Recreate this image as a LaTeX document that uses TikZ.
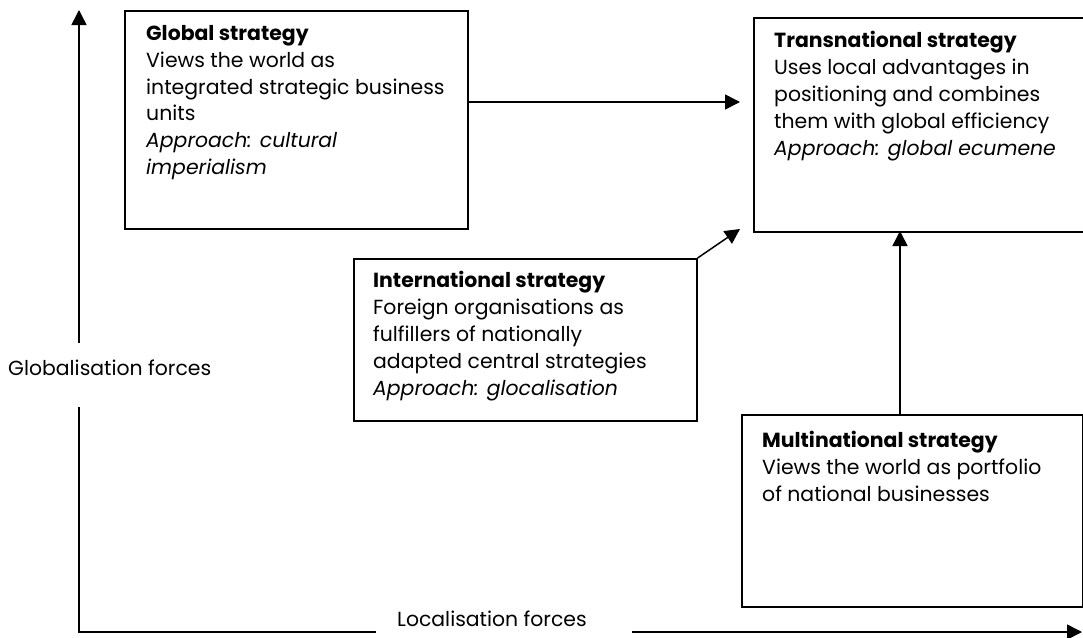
\documentclass[tikz,border=0pt]{standalone}
\usepackage{fontspec}
\setmainfont{Poppins}
\usetikzlibrary{arrows.meta}
\begin{document}
\begin{tikzpicture}[x=1pt,y=-1pt,
  box/.style={draw,line width=1.6pt,rectangle,inner sep=0pt,anchor=north west},
  txt/.style={anchor=north west,inner sep=0pt,align=left,font=\fontsize{20.4}{26.9}\selectfont},
  conn/.style={line width=1.5pt,-{Triangle[length=15pt,width=15pt]}},
  axis/.style={line width=1.5pt},
  lbl/.style={inner sep=0pt,font=\fontsize{20.4}{24}\selectfont}]
\useasboundingbox (0,0) rectangle (1083,637);
\begin{scope}
\clip (0,0) rectangle (1083,637);
% strategy boxes
\node[box,minimum width=343pt,minimum height=218pt] (glob) at (124,10) {};
\node[box,minimum width=340pt,minimum height=214pt] (trans) at (753,17) {};
\node[box,minimum width=343pt,minimum height=162pt] (intl) at (353,258) {};
\node[box,minimum width=341pt,minimum height=192pt] (multi) at (741,414) {};
\end{scope}
% box texts
\node[txt] (globtxt) at (146,25) {\textbf{Global strategy}\\Views the world as\\integrated strategic business\\units\\\textit{Approach: cultural}\\\textit{imperialism}};
\node[txt] (transtxt) at (774,31) {\textbf{Transnational strategy}\\Uses local advantages in\\positioning and combines\\them with global efficiency\\\textit{Approach: global ecumene}};
\node[txt] (intltxt) at (373,271) {\textbf{International strategy}\\Foreign organisations as\\fulfillers of nationally\\adapted central strategies\\\textit{Approach: glocalisation}};
\node[txt] (multitxt) at (762,431) {\textbf{Multinational strategy}\\Views the world as portfolio\\of national businesses};
% connector end points
\coordinate (gt1) at (467,102);
\coordinate (gt2) at (740,102);
\coordinate (it2) at (740,229);
\coordinate (mt1) at (900,414);
\coordinate (mt2) at (900,231);
\draw[conn] (gt1) -- (gt2);
\draw[conn] (intl.north east) -- (it2);
\draw[conn] (mt1) -- (mt2);
% axes
\coordinate (origin) at (79,632);
\coordinate (ytop) at (79,10);
\coordinate (ygap1) at (79,343);
\coordinate (ygap2) at (79,407);
\coordinate (xgap1) at (376,632);
\coordinate (xgap2) at (632,632);
\coordinate (xend) at (1082,632);
\draw[axis,-{Triangle[length=15pt,width=15pt]}] (ygap1) -- (ytop);
\draw[axis] (ygap2) -- (origin) -- (xgap1);
\draw[axis,-{Triangle[length=15pt,width=15pt]}] (xgap2) -- (xend);
\node[lbl,anchor=west] (glab) at (8,368) {Globalisation forces};
\node[lbl,anchor=west] (llab) at (397,619) {Localisation forces};
\end{tikzpicture}
\end{document}
